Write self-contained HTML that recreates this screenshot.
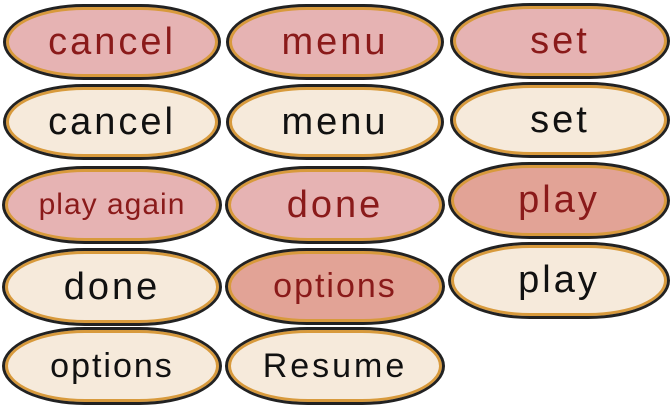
<!DOCTYPE html>
<html><head><style>
body{margin:0;width:672px;height:406px;background:#fff;position:relative;overflow:hidden;font-family:"Liberation Sans","DejaVu Sans",sans-serif;}
.b{position:absolute;box-sizing:border-box;border:3px solid #222;border-radius:85px/40px;box-shadow:inset 0 0 0 3px #d89a3c;display:flex;align-items:center;justify-content:center;font-size:38px;letter-spacing:3px;}
.p{background:#e6b3b3;color:#8a1a1a}
.d{background:#e2a396;color:#8a1a1a}
.c{background:#f6eadb;color:#111}
</style></head><body>
<div class="b p" style="left:3px;top:4px;width:218px;height:76px">cancel</div>
<div class="b p" style="left:226px;top:4px;width:218px;height:76px">menu</div>
<div class="b p" style="left:450px;top:3px;width:220px;height:76px">set</div>
<div class="b c" style="left:3px;top:84px;width:218px;height:76px">cancel</div>
<div class="b c" style="left:226px;top:84px;width:218px;height:76px">menu</div>
<div class="b c" style="left:450px;top:82px;width:220px;height:76px">set</div>
<div class="b p" style="left:2px;top:166px;width:220px;height:78px;font-size:30px;letter-spacing:1px">play again</div>
<div class="b p" style="left:225px;top:166px;width:220px;height:78px">done</div>
<div class="b d" style="left:448px;top:162px;width:222px;height:77px">play</div>
<div class="b c" style="left:2px;top:248px;width:220px;height:78px">done</div>
<div class="b d" style="left:225px;top:248px;width:220px;height:77px;font-size:34px;letter-spacing:2px">options</div>
<div class="b c" style="left:448px;top:242px;width:222px;height:77px">play</div>
<div class="b c" style="left:2px;top:327px;width:220px;height:78px;font-size:34px;letter-spacing:2px">options</div>
<div class="b c" style="left:225px;top:327px;width:220px;height:78px;font-size:34px;letter-spacing:3px">Resume</div>
</body></html>
